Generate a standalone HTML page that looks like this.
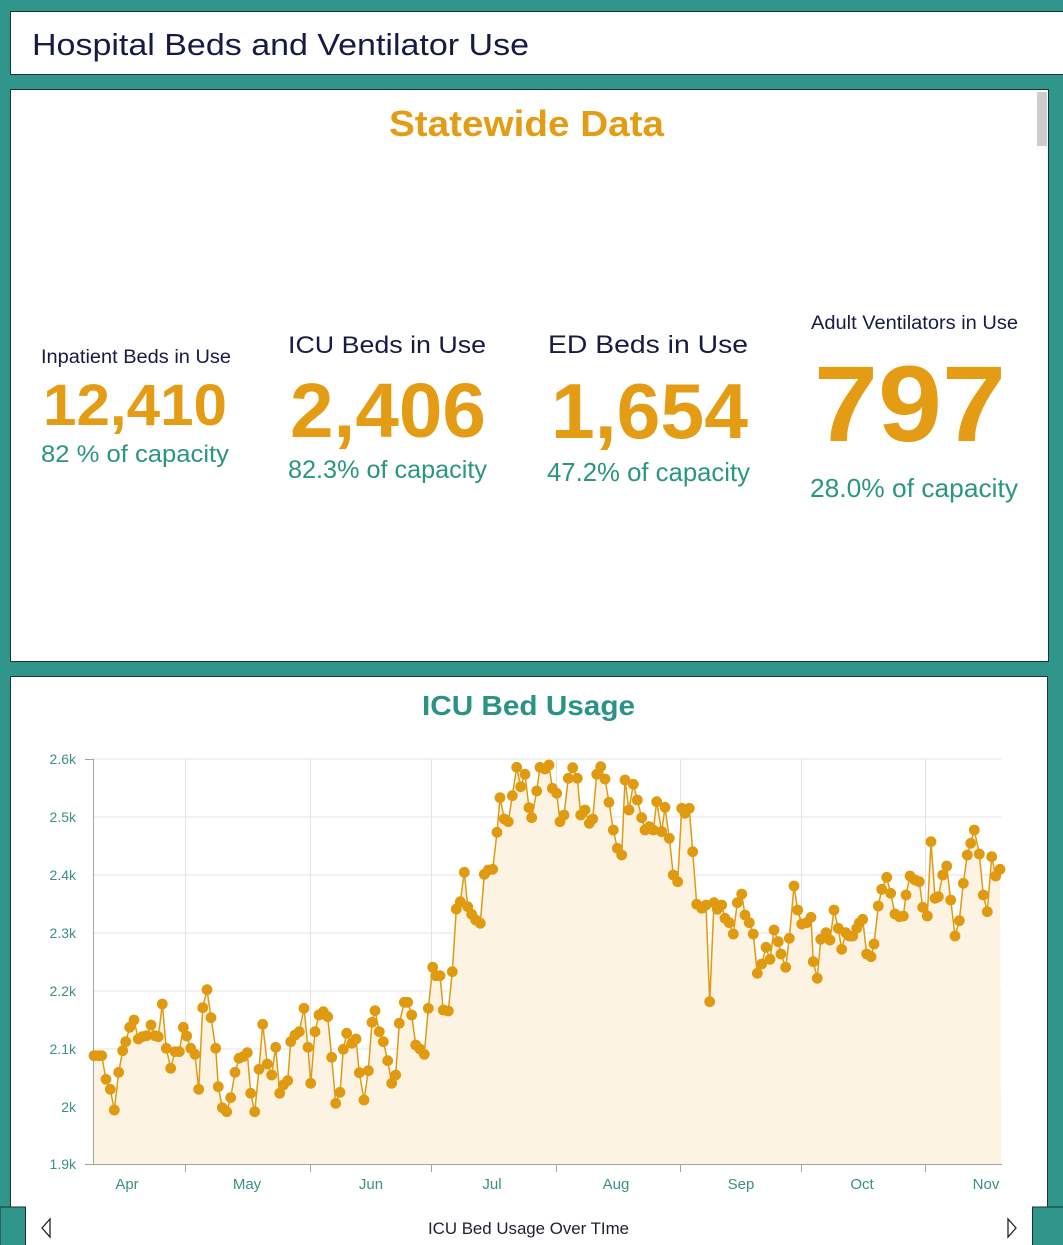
<!DOCTYPE html>
<html>
<head>
<meta charset="utf-8">
<style>
html,body{margin:0;padding:0;background:#30958a;}
svg{display:block;}
text{font-family:"Liberation Sans",sans-serif;}
</style>
</head>
<body>
<svg width="1063" height="1245" viewBox="0 0 1063 1245" xmlns="http://www.w3.org/2000/svg">
<defs>
<marker id="m" markerUnits="userSpaceOnUse" markerWidth="14" markerHeight="14" refX="7" refY="7">
<circle cx="7" cy="7" r="5.4" fill="#e09a0f"/>
</marker>
</defs>
<rect x="0" y="0" width="1063" height="1245" fill="#30958a"/>
<!-- title panel -->
<rect x="10.5" y="11.5" width="1060" height="63" fill="#ffffff" stroke="#1d3434" stroke-width="1"/>
<text x="32" y="55" font-size="31" fill="#161a45" textLength="497" lengthAdjust="spacingAndGlyphs">Hospital Beds and Ventilator Use</text>

<!-- statewide panel -->
<rect x="10.5" y="89.5" width="1038" height="572" fill="#ffffff" stroke="#1d3434" stroke-width="1"/>
<rect x="1037" y="92" width="10" height="54" fill="#cdcdcd"/>
<text x="389" y="136" font-size="36" font-weight="bold" fill="#e39c14" textLength="275" lengthAdjust="spacingAndGlyphs">Statewide Data</text>

<text x="41" y="363" font-size="19" fill="#161a45" textLength="190" lengthAdjust="spacingAndGlyphs">Inpatient Beds in Use</text>
<text x="43" y="425" font-size="58" font-weight="bold" fill="#e39c14" textLength="184" lengthAdjust="spacingAndGlyphs">12,410</text>
<text x="41" y="462" font-size="24" fill="#2a9582" textLength="188" lengthAdjust="spacingAndGlyphs">82 % of capacity</text>

<text x="288" y="353" font-size="24" fill="#161a45" textLength="198" lengthAdjust="spacingAndGlyphs">ICU Beds in Use</text>
<text x="290" y="437" font-size="77" font-weight="bold" fill="#e39c14" textLength="196" lengthAdjust="spacingAndGlyphs">2,406</text>
<text x="288" y="478" font-size="25" fill="#2a9582" textLength="199" lengthAdjust="spacingAndGlyphs">82.3% of capacity</text>

<text x="548" y="353" font-size="25" fill="#161a45" textLength="200" lengthAdjust="spacingAndGlyphs">ED Beds in Use</text>
<text x="551" y="438" font-size="78" font-weight="bold" fill="#e39c14" textLength="197" lengthAdjust="spacingAndGlyphs">1,654</text>
<text x="547" y="481" font-size="26" fill="#2a9582" textLength="203" lengthAdjust="spacingAndGlyphs">47.2% of capacity</text>

<text x="811" y="329" font-size="19" fill="#161a45" textLength="207" lengthAdjust="spacingAndGlyphs">Adult Ventilators in Use</text>
<text x="814" y="441" font-size="108" font-weight="bold" fill="#e39c14" textLength="192" lengthAdjust="spacingAndGlyphs">797</text>
<text x="810" y="497" font-size="26" fill="#2a9582" textLength="208" lengthAdjust="spacingAndGlyphs">28.0% of capacity</text>

<!-- chart panel -->
<rect x="10.5" y="676.5" width="1037" height="580" fill="#ffffff" stroke="#1d3434" stroke-width="1"/>
<text x="422" y="715" font-size="28" font-weight="bold" fill="#2a9386" textLength="213" lengthAdjust="spacingAndGlyphs">ICU Bed Usage</text>

<!-- grid -->
<g stroke="#e3e3e3" stroke-width="1">
<line x1="93" y1="759" x2="1001" y2="759"/>
<line x1="93" y1="817" x2="1001" y2="817"/>
<line x1="93" y1="875" x2="1001" y2="875"/>
<line x1="93" y1="933" x2="1001" y2="933"/>
<line x1="93" y1="991" x2="1001" y2="991"/>
<line x1="93" y1="1049" x2="1001" y2="1049"/>
<line x1="93" y1="1107" x2="1001" y2="1107"/>
<line x1="185.5" y1="759" x2="185.5" y2="1164"/>
<line x1="310.5" y1="759" x2="310.5" y2="1164"/>
<line x1="431.5" y1="759" x2="431.5" y2="1164"/>
<line x1="556.5" y1="759" x2="556.5" y2="1164"/>
<line x1="680.5" y1="759" x2="680.5" y2="1164"/>
<line x1="801.5" y1="759" x2="801.5" y2="1164"/>
<line x1="925.5" y1="759" x2="925.5" y2="1164"/>
</g>

<!-- area -->
<polygon fill="#fcf3e3" points="93,1164 94.0,1055.7 98.3,1055.7 101.7,1055.7 106.0,1079.3 110.3,1089.3 114.3,1110.0 118.7,1072.3 122.7,1050.7 125.7,1041.7 129.7,1027.3 134.0,1020.0 138.3,1039.0 142.3,1036.7 146.7,1035.7 151.0,1025.0 155.0,1035.7 158.3,1036.7 162.3,1004.0 166.3,1048.3 170.7,1068.3 175.0,1051.7 179.3,1051.7 183.3,1027.3 186.7,1036.0 190.7,1048.3 195.0,1054.3 198.7,1089.3 202.7,1007.7 207.0,989.7 211.0,1017.7 215.7,1048.3 218.3,1086.7 222.3,1107.7 226.7,1111.7 230.7,1097.7 235.0,1072.3 239.0,1058.3 243.3,1056.5 247.3,1052.7 250.7,1093.3 254.7,1111.7 259.0,1069.3 262.7,1024.3 267.3,1064.0 271.7,1075.0 275.7,1047.3 279.7,1093.3 283.3,1085.0 287.7,1080.7 290.7,1041.7 295.0,1035.0 299.3,1031.7 304.0,1008.3 308.0,1047.3 310.7,1083.3 315.0,1031.7 319.0,1015.0 323.3,1011.7 327.7,1016.7 331.7,1057.3 335.7,1103.3 340.0,1092.3 343.3,1049.3 346.7,1033.3 351.7,1043.3 356.0,1039.0 359.3,1072.7 364.0,1100.0 368.3,1070.7 372.0,1022.3 375.0,1010.7 379.3,1031.7 383.3,1041.7 387.7,1060.7 391.7,1083.3 395.7,1075.0 399.3,1023.3 404.3,1002.3 407.7,1002.3 411.7,1015.0 415.7,1045.0 420.0,1049.0 424.3,1054.3 428.3,1008.3 432.7,967.3 435.7,975.7 440.0,975.7 443.3,1010.0 448.3,1011.0 452.3,971.7 456.3,909.0 460.3,901.7 464.3,872.3 467.7,906.7 471.7,914.3 475.7,920.0 480.3,923.3 484.3,874.3 488.3,870.0 492.7,869.3 497.0,832.3 500.0,797.7 504.3,819.0 508.3,821.7 512.3,795.7 516.7,767.3 520.7,786.7 525.0,774.3 529.0,807.7 531.7,817.7 536.7,791.0 540.0,767.3 545.0,769.0 549.0,765.0 552.3,788.3 556.7,793.3 560.0,821.7 564.0,815.0 568.3,778.3 572.7,767.7 577.3,778.3 580.7,815.0 585.0,810.0 589.3,823.3 592.7,819.0 596.7,774.3 600.7,766.7 605.0,779.0 609.0,802.3 613.3,830.0 617.3,848.3 621.7,855.0 625.0,780.0 629.0,810.0 633.3,784.3 637.3,800.0 641.7,817.7 645.0,830.0 649.3,826.7 653.3,830.0 656.7,801.7 661.7,831.7 665.0,807.3 669.3,838.3 673.3,875.0 677.7,881.7 681.7,808.3 685.0,813.3 689.3,808.3 692.7,851.7 696.7,904.3 701.7,908.3 706.0,905.0 709.7,1001.7 714.0,902.7 717.3,909.3 721.7,905.0 725.0,918.3 729.3,922.7 733.3,934.0 737.3,902.7 741.7,894.0 745.0,915.0 749.3,922.7 753.3,934.0 757.3,973.3 761.7,964.0 766.0,947.3 770.0,959.3 774.0,930.0 778.3,941.7 781.0,954.0 785.7,967.3 789.3,938.3 794.0,886.0 797.7,910.0 801.7,924.0 806.7,922.7 811.0,917.3 813.3,961.7 817.3,978.3 820.7,939.3 826.0,932.7 830.0,940.0 834.0,910.0 838.3,928.3 841.7,949.3 845.7,932.7 849.3,936.0 852.7,936.0 856.7,928.3 859.3,923.0 862.7,919.3 866.7,954.0 871.0,956.7 874.0,944.0 878.3,906.0 881.7,889.3 886.7,877.3 890.7,893.3 895.0,914.0 899.3,916.7 903.3,916.0 906.0,895.0 910.0,876.0 915.0,880.0 919.3,881.7 922.7,907.3 927.3,916.0 931.0,841.7 935.0,898.3 938.3,896.7 942.7,875.0 946.7,866.0 950.7,900.0 955.0,936.0 959.3,920.7 963.3,883.3 967.3,855.0 970.7,843.3 974.3,830.0 979.3,854.0 983.3,895.0 987.3,911.7 991.7,856.7 995.7,876.0 1000.0,869.3 1001,1164"/>

<!-- axes -->
<g stroke="#a3a3a3" stroke-width="1">
<line x1="93.5" y1="759" x2="93.5" y2="1164.5"/>
<line x1="85" y1="1164.5" x2="1002" y2="1164.5"/>
<line x1="85" y1="759.5" x2="93" y2="759.5"/>
<line x1="185.5" y1="1164" x2="185.5" y2="1172"/>
<line x1="310.5" y1="1164" x2="310.5" y2="1172"/>
<line x1="431.5" y1="1164" x2="431.5" y2="1172"/>
<line x1="556.5" y1="1164" x2="556.5" y2="1172"/>
<line x1="680.5" y1="1164" x2="680.5" y2="1172"/>
<line x1="801.5" y1="1164" x2="801.5" y2="1172"/>
<line x1="925.5" y1="1164" x2="925.5" y2="1172"/>
</g>

<!-- series -->
<polyline fill="none" stroke="#e09a0f" stroke-width="1.5" stroke-linejoin="round" marker-start="url(#m)" marker-mid="url(#m)" marker-end="url(#m)" points="94.0,1055.7 98.3,1055.7 101.7,1055.7 106.0,1079.3 110.3,1089.3 114.3,1110.0 118.7,1072.3 122.7,1050.7 125.7,1041.7 129.7,1027.3 134.0,1020.0 138.3,1039.0 142.3,1036.7 146.7,1035.7 151.0,1025.0 155.0,1035.7 158.3,1036.7 162.3,1004.0 166.3,1048.3 170.7,1068.3 175.0,1051.7 179.3,1051.7 183.3,1027.3 186.7,1036.0 190.7,1048.3 195.0,1054.3 198.7,1089.3 202.7,1007.7 207.0,989.7 211.0,1017.7 215.7,1048.3 218.3,1086.7 222.3,1107.7 226.7,1111.7 230.7,1097.7 235.0,1072.3 239.0,1058.3 243.3,1056.5 247.3,1052.7 250.7,1093.3 254.7,1111.7 259.0,1069.3 262.7,1024.3 267.3,1064.0 271.7,1075.0 275.7,1047.3 279.7,1093.3 283.3,1085.0 287.7,1080.7 290.7,1041.7 295.0,1035.0 299.3,1031.7 304.0,1008.3 308.0,1047.3 310.7,1083.3 315.0,1031.7 319.0,1015.0 323.3,1011.7 327.7,1016.7 331.7,1057.3 335.7,1103.3 340.0,1092.3 343.3,1049.3 346.7,1033.3 351.7,1043.3 356.0,1039.0 359.3,1072.7 364.0,1100.0 368.3,1070.7 372.0,1022.3 375.0,1010.7 379.3,1031.7 383.3,1041.7 387.7,1060.7 391.7,1083.3 395.7,1075.0 399.3,1023.3 404.3,1002.3 407.7,1002.3 411.7,1015.0 415.7,1045.0 420.0,1049.0 424.3,1054.3 428.3,1008.3 432.7,967.3 435.7,975.7 440.0,975.7 443.3,1010.0 448.3,1011.0 452.3,971.7 456.3,909.0 460.3,901.7 464.3,872.3 467.7,906.7 471.7,914.3 475.7,920.0 480.3,923.3 484.3,874.3 488.3,870.0 492.7,869.3 497.0,832.3 500.0,797.7 504.3,819.0 508.3,821.7 512.3,795.7 516.7,767.3 520.7,786.7 525.0,774.3 529.0,807.7 531.7,817.7 536.7,791.0 540.0,767.3 545.0,769.0 549.0,765.0 552.3,788.3 556.7,793.3 560.0,821.7 564.0,815.0 568.3,778.3 572.7,767.7 577.3,778.3 580.7,815.0 585.0,810.0 589.3,823.3 592.7,819.0 596.7,774.3 600.7,766.7 605.0,779.0 609.0,802.3 613.3,830.0 617.3,848.3 621.7,855.0 625.0,780.0 629.0,810.0 633.3,784.3 637.3,800.0 641.7,817.7 645.0,830.0 649.3,826.7 653.3,830.0 656.7,801.7 661.7,831.7 665.0,807.3 669.3,838.3 673.3,875.0 677.7,881.7 681.7,808.3 685.0,813.3 689.3,808.3 692.7,851.7 696.7,904.3 701.7,908.3 706.0,905.0 709.7,1001.7 714.0,902.7 717.3,909.3 721.7,905.0 725.0,918.3 729.3,922.7 733.3,934.0 737.3,902.7 741.7,894.0 745.0,915.0 749.3,922.7 753.3,934.0 757.3,973.3 761.7,964.0 766.0,947.3 770.0,959.3 774.0,930.0 778.3,941.7 781.0,954.0 785.7,967.3 789.3,938.3 794.0,886.0 797.7,910.0 801.7,924.0 806.7,922.7 811.0,917.3 813.3,961.7 817.3,978.3 820.7,939.3 826.0,932.7 830.0,940.0 834.0,910.0 838.3,928.3 841.7,949.3 845.7,932.7 849.3,936.0 852.7,936.0 856.7,928.3 859.3,923.0 862.7,919.3 866.7,954.0 871.0,956.7 874.0,944.0 878.3,906.0 881.7,889.3 886.7,877.3 890.7,893.3 895.0,914.0 899.3,916.7 903.3,916.0 906.0,895.0 910.0,876.0 915.0,880.0 919.3,881.7 922.7,907.3 927.3,916.0 931.0,841.7 935.0,898.3 938.3,896.7 942.7,875.0 946.7,866.0 950.7,900.0 955.0,936.0 959.3,920.7 963.3,883.3 967.3,855.0 970.7,843.3 974.3,830.0 979.3,854.0 983.3,895.0 987.3,911.7 991.7,856.7 995.7,876.0 1000.0,869.3"/>

<!-- y labels -->
<g font-size="14" fill="#3a8f86" text-anchor="end">
<text x="76" y="764">2.6k</text>
<text x="76" y="822">2.5k</text>
<text x="76" y="880">2.4k</text>
<text x="76" y="938">2.3k</text>
<text x="76" y="996">2.2k</text>
<text x="76" y="1054">2.1k</text>
<text x="76" y="1112">2k</text>
<text x="76" y="1169">1.9k</text>
</g>
<!-- x labels -->
<g font-size="15" fill="#3a8f86" text-anchor="middle">
<text x="127" y="1189">Apr</text>
<text x="247" y="1189">May</text>
<text x="371" y="1189">Jun</text>
<text x="492" y="1189">Jul</text>
<text x="616" y="1189">Aug</text>
<text x="741" y="1189">Sep</text>
<text x="862" y="1189">Oct</text>
<text x="986" y="1189">Nov</text>
</g>

<!-- bottom teal steps -->
<rect x="0" y="1207" width="25.5" height="40" fill="#30958a" stroke="#1d3434" stroke-width="1"/>
<rect x="1032.5" y="1207" width="32" height="40" fill="#30958a" stroke="#1d3434" stroke-width="1"/>

<!-- caption and nav -->
<text x="428" y="1234" font-size="17" fill="#1e2030" textLength="201" lengthAdjust="spacingAndGlyphs">ICU Bed Usage Over TIme</text>
<polygon points="50,1219 42,1228 50,1237" fill="none" stroke="#222" stroke-width="1.3"/>
<polygon points="1008,1219 1016,1228 1008,1237" fill="none" stroke="#222" stroke-width="1.3"/>
</svg>
</body>
</html>
